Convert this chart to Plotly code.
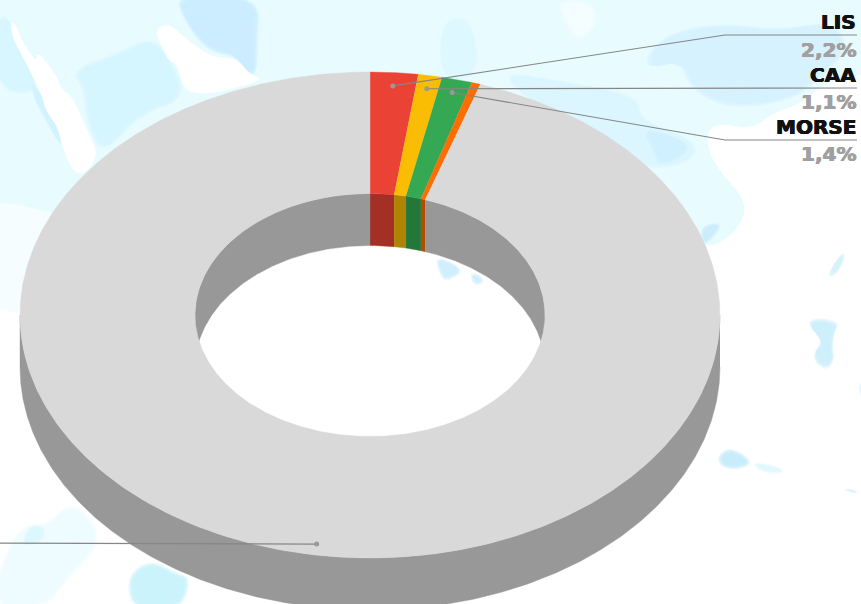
import math
import plotly.graph_objects as go

# ---- data -------------------------------------------------------------
labels = ["LIS", "CAA", "MORSE", "OTROS", "RESTO"]
shares = [2.2, 1.1, 1.4, 0.4, 94.9]
colors = ["#EA4335", "#FBBC04", "#34A853", "#FF6D01", "#D9D9D9"]
wall_colors = ["#A42F25", "#B08403", "#257639", "#B34C01", "#989898"]
labelled = ["LIS", "CAA", "MORSE"]
leader_color = "#868686"

# ---- geometry of the picture -------------------------------------------
W, H = 861, 604
CX, CY, RX, RY = 370.0, 315.0, 350.0, 243.0
HOLE = 0.5
DEPTH = 52.0 / RY


def xd(px):
    return (px - CX) / RX


def yd(py):
    return (CY - py) / RY


def arc(radius, a0, a1, drop=0.0, step=0.5):
    n = max(2, int(abs(a1 - a0) / step) + 1)
    xs, ys = [], []
    for i in range(n + 1):
        a = math.radians(a0 + (a1 - a0) * i / n)
        xs.append(radius * math.sin(a))
        ys.append(radius * math.cos(a) - drop)
    return xs, ys


# ---- watercolour backdrop (pixel outlines, decoration only) --------------
BACKDROP = [
    ("#F4FDFF", [(-30, 190), (60, 190), (90, 240), (75, 290), (30, 320), (-30, 300)]),
    ("#E8FBFF", [(-150, -150), (1000, -150), (1000, 70), (866, 72), (820, 85), (803, 103), (775, 112), (750, 130),
                 (722, 123), (707, 130), (708, 150), (720, 172), (742, 195), (746, 215), (730, 238), (702, 250),
                 (650, 200), (300, 190), (100, 225), (60, 215), (0, 200), (-150, 200)]),
    ("#D6F5FF", [(-5, 15), (12, 18), (30, 60), (40, 95), (-5, 92)]),
    ("#CFF1FF", [(30, 75), (62, 130), (62, 150), (45, 120), (33, 98)]),
    ("#D4F5FF", [(70, 70), (118, 52), (155, 35), (178, 70), (185, 100), (140, 115), (103, 157), (86, 125), (83, 88)]),
    ("#DCF7FF", [(440, 20), (470, 15), (480, 60), (470, 80), (440, 80)]),
    ("#D4F2FF", [(640, 70), (680, 60), (690, 90), (730, 110), (795, 100), (820, 78), (850, 50), (835, 20), (780, 30),
                 (720, 22), (660, 35)]),
    ("#DAF5FF", [(490, 70), (560, 80), (640, 95), (640, 120), (700, 142), (690, 165), (640, 170), (570, 130)]),
    ("#D0F0FF", [(640, 125), (700, 145), (660, 170), (652, 150)]),
    ("#C9ECFF", [(177, -5), (260, -5), (258, 40), (257, 76), (247, 73), (237, 57), (213, 53), (197, 40), (180, 13)]),
    ("#FFFFFF", [(10, 22), (15, 23), (23, 43), (37, 63), (37, 50), (58, 77), (60, 88), (73, 97), (87, 130),
                 (100, 157), (77, 180), (62, 147), (58, 127), (45, 110), (43, 97), (23, 57), (13, 40)]),
    ("#FFFFFF", [(155, 30), (167, 23), (180, 33), (200, 50), (217, 58), (237, 58), (250, 75), (267, 80), (187, 100),
                 (177, 63), (170, 63), (160, 43)]),
    ("#F6FEFF", [(555, 0), (590, 0), (600, 20), (580, 45), (565, 25)]),
    ("#C8ECFC", [(700, 225), (724, 222), (712, 240), (702, 246)]),
    ("#CAEDFF", [(434, 254), (467, 270), (447, 282), (440, 277)]),
    ("#CAEDFF", [(470, 271), (485, 278), (482, 285), (472, 285)]),
    ("#C9EEFB", [(806, 323), (817, 317), (840, 322), (835, 330), (833, 350), (835, 360), (827, 371), (815, 363),
                 (813, 353), (823, 340)]),
    ("#C2EBFA", [(716, 458), (727, 447), (743, 453), (753, 463), (740, 470), (722, 468)]),
    ("#DFF7FF", [(753, 462), (775, 465), (787, 472), (770, 475), (755, 468)]),
    ("#D2F1FB", [(843, 488), (857, 490), (858, 494), (848, 492)]),
    ("#E0F8FF", [(856, 383), (866, 383), (866, 410)]),
    ("#D2F1FB", [(826, 276), (843, 250), (846, 258), (835, 277)]),
    ("#EDFCFF", [(-5, 577), (20, 523), (47, 525), (70, 500), (98, 523), (98, 550), (67, 580), (47, 609), (-5, 609)]),
    ("#DAF7FF", [(20, 547), (30, 523), (47, 527), (43, 543)]),
    ("#C6F1FB", [(127, 587), (132, 570), (153, 560), (177, 573), (190, 577), (187, 597), (177, 609), (133, 609)]),
]


def paper_path(points, inset=0.0):
    """Smooth closed outline in paper coordinates, optionally pulled in by a few pixels."""
    cx = sum(p[0] for p in points) / len(points)
    cy = sum(p[1] for p in points) / len(points)
    moved = []
    for px, py in points:
        dist = math.hypot(px - cx, py - cy) or 1.0
        k = max(0.0, 1 - inset / dist)
        moved.append((cx + (px - cx) * k, cy + (py - cy) * k))
    pts = [(px / W, 1 - py / H) for px, py in moved]
    mids = [((pts[i][0] + pts[(i + 1) % len(pts)][0]) / 2,
             (pts[i][1] + pts[(i + 1) % len(pts)][1]) / 2) for i in range(len(pts))]
    d = f"M {mids[-1][0]:.5f} {mids[-1][1]:.5f} "
    for i, p in enumerate(pts):
        d += f"Q {p[0]:.5f} {p[1]:.5f} {mids[i][0]:.5f} {mids[i][1]:.5f} "
    return d + "Z"


shapes = []
for c, p in BACKDROP:
    if c == "#FFFFFF" or len(p) > 18:
        layers = [(0.0, 1.0)]
    else:
        layers = [(0.0, 0.35), (1.5, 0.4), (3.0, 0.5), (5.0, 0.5)]
    for inset, op in layers:
        shapes.append(dict(type="path", xref="paper", yref="paper", layer="below", path=paper_path(p, inset),
                           fillcolor=c, opacity=op, line=dict(width=0)))

fig = go.Figure()


def polygon(xs, ys, color):
    fig.add_trace(go.Scatter(x=xs, y=ys, mode="lines", fill="toself", fillcolor=color,
                             line=dict(width=0.4, color=color), hoverinfo="skip", showlegend=False))


# ---- slices from the values -------------------------------------------
total = sum(shares)
starts, ends = [], []
run = 0.0
for v in shares:
    starts.append(run / total * 360)
    run += v
    ends.append(run / total * 360)

# outer wall: only the front half faces the viewer
for s, e, wc in zip(starts, ends, wall_colors):
    a0, a1 = max(s, 90), min(e, 270)
    if a1 > a0:
        x1, y1 = arc(1, a0, a1)
        x2, y2 = arc(1, a1, a0, drop=DEPTH)
        polygon(x1 + x2, y1 + y2, wc)

# inner wall: only the back half of the hole is visible
for s, e, wc in zip(starts, ends, wall_colors):
    for a0, a1 in ((max(s, 0), min(e, 90)), (max(s, 270), min(e, 360))):
        if a1 > a0:
            x1, y1 = arc(HOLE, a0, a1)
            x2, y2 = arc(HOLE, a1, a0, drop=DEPTH)
            polygon(x1 + x2, y1 + y2, wc)

# top face
for s, e, c in zip(starts, ends, colors):
    x1, y1 = arc(1, s, e)
    x2, y2 = arc(HOLE, e, s)
    polygon(x1 + x2, y1 + y2, c)

# ---- leaders and labels --------------------------------------------------
elbows = {"LIS": [(725, 35), (857, 35)], "CAA": [(857, 88)], "MORSE": [(725, 140), (857, 140)],
          "RESTO": [(-50, 543)]}
dot_radius = {"LIS": 0.945, "CAA": 0.945, "MORSE": 0.945, "RESTO": 0.955}
for name, route in elbows.items():
    i = labels.index(name)
    mid = math.radians((starts[i] + ends[i]) / 2)
    dx, dy = dot_radius[name] * math.sin(mid), dot_radius[name] * math.cos(mid)
    fig.add_trace(go.Scatter(x=[dx] + [xd(p[0]) for p in route], y=[dy] + [yd(p[1]) for p in route],
                             mode="lines", line=dict(color=leader_color, width=1.1),
                             hoverinfo="skip", showlegend=False))
    fig.add_trace(go.Scatter(x=[dx], y=[dy], mode="markers", marker=dict(color="#999999", size=5),
                             hoverinfo="skip", showlegend=False))


def heavy(color):
    return f"0.5px 0 0 {color}, -0.5px 0 0 {color}, 0 0.3px 0 {color}"


annotations = []
for name, yn, yp in zip(labelled, (22, 75, 127), (50, 102, 154)):
    v = shares[labels.index(name)]
    annotations.append(dict(x=xd(858), y=yd(yn), text=f"<b>{name}</b>", showarrow=False, xanchor="right",
                            yanchor="middle", font=dict(family="DejaVu Sans", size=20, color="#111111",
                                                        shadow=heavy("#111111"))))
    annotations.append(dict(x=xd(858), y=yd(yp), text=f"<b>{v:.1f}%</b>".replace(".", ","), showarrow=False,
                            xanchor="right", yanchor="middle",
                            font=dict(family="DejaVu Sans", size=20, color="#A0A0A0",
                                      shadow=heavy("#A0A0A0"))))

fig.update_layout(
    width=W, height=H, margin=dict(l=0, r=0, t=0, b=0), paper_bgcolor="#FFFFFF", plot_bgcolor="rgba(0,0,0,0)",
    showlegend=False, shapes=shapes, annotations=annotations,
    xaxis=dict(range=[xd(0), xd(W)], visible=False, fixedrange=True),
    yaxis=dict(range=[yd(H), yd(0)], visible=False, fixedrange=True),
)

fig.write_html("out.html", config={"displayModeBar": False},
               post_script="document.body.style.margin='0';document.body.style.overflow='hidden';")
